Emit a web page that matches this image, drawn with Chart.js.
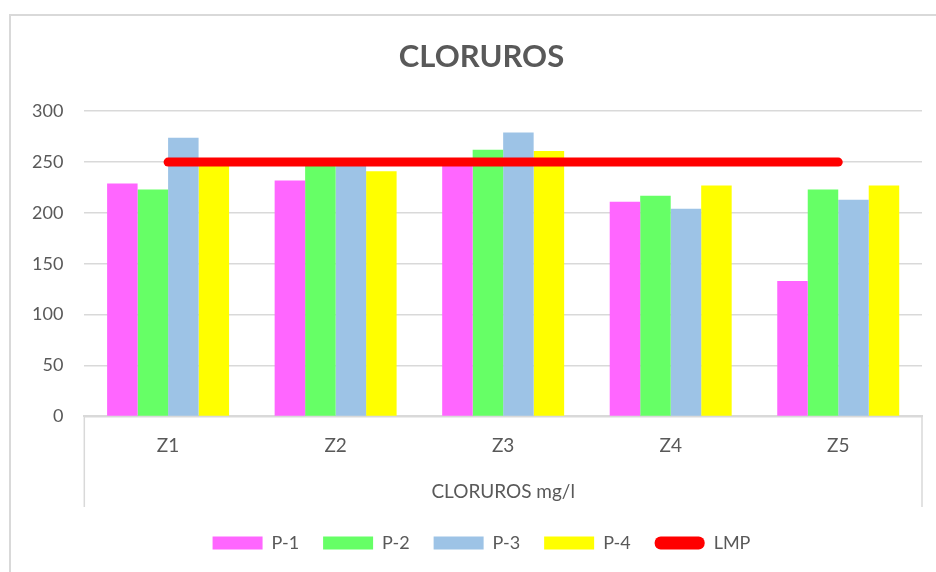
<!DOCTYPE html>
<html>
<head>
<meta charset="utf-8">
<script src="https://cdn.jsdelivr.net/npm/chart.js@4"></script>
<style>
  html, body { margin: 0; padding: 0; background: #fff; }
  #wrap { width: 936px; height: 572px; }
</style>
</head>
<body>
<div id="wrap"><canvas id="chart" width="936" height="572"></canvas></div>
<script>
// chart data
const categories = ["Z1", "Z2", "Z3", "Z4", "Z5"];
const seriesNames = ["P-1", "P-2", "P-3", "P-4"];
const p1 = [229, 232, 249, 211, 133];
const p2 = [223, 250, 262, 217, 223];
const p3 = [274, 250, 279, 204, 213];
const p4 = [250, 241, 261, 227, 227];
const lmp = [250, 250, 250, 250, 250];
const yTicks = { min: 0, max: 300, step: 50 };

const colors = ["#ff66ff", "#66ff66", "#9dc3e6", "#ffff00"];
const gray = "#595959";
const lineGray = "#d9d9d9";
const FONT = "Lato";
const BOX_GAP = 3;      // space kept below the category box
const CENTER_SHIFT = 15; // excel centres title/legend a bit right of ours

// outer chart frame + the box round the category labels
const framePlugin = {
  id: "frame",
  afterLayout(chart) {
    for (const box of [chart.titleBlock, chart.legend]) {
      if (!box) continue;
      box.left += CENTER_SHIFT;
      box.right += CENTER_SHIFT;
    }
  },
  beforeDraw(chart) {
    const ctx = chart.ctx;
    ctx.save();
    ctx.strokeStyle = lineGray;
    ctx.lineWidth = 2;
    ctx.strokeRect(10, 15, chart.width + 20, chart.height + 20);
    ctx.restore();
  },
  afterDraw(chart) {
    const ctx = chart.ctx;
    const area = chart.chartArea;
    const bottom = chart.scales.x.bottom - BOX_GAP;
    ctx.save();
    ctx.strokeStyle = lineGray;
    ctx.lineWidth = 1.5;
    ctx.beginPath();
    ctx.moveTo(area.left, area.bottom);
    ctx.lineTo(area.left, bottom);
    ctx.moveTo(area.right, area.bottom);
    ctx.lineTo(area.right, bottom);
    ctx.stroke();
    ctx.restore();
  }
};

const barData = [p1, p2, p3, p4];
const datasets = barData.map((vals, i) => ({
  type: "bar",
  label: seriesNames[i],
  data: vals,
  backgroundColor: colors[i],
  borderWidth: 0,
  barPercentage: 1,
  categoryPercentage: 0.728,
  order: 1
}));
datasets.push({
  type: "line",
  label: "LMP",
  data: lmp,
  borderColor: "#ff0000",
  backgroundColor: "#ff0000",
  borderWidth: 9,
  borderCapStyle: "round",
  pointRadius: 0,
  pointHoverRadius: 0,
  fill: false,
  order: 0
});

new Chart(document.getElementById("chart"), {
  data: { labels: categories, datasets: datasets },
  options: {
    responsive: false,
    animation: false,
    layout: { padding: { top: 14, left: 11, right: 14, bottom: 10 } },
    plugins: {
      title: {
        display: true,
        text: "CLORUROS",
        color: gray,
        font: { family: FONT, size: 31, weight: "bold" },
        padding: { top: 24, bottom: 36 }
      },
      legend: {
        position: "bottom",
        labels: {
          color: gray,
          font: { family: FONT, size: 18 },
          boxWidth: 50,
          boxHeight: 13,
          padding: 24,
          useBorderRadius: true,
          sort: (a, b) => a.datasetIndex - b.datasetIndex,
          generateLabels(chart) {
            return chart.data.datasets.map((ds, i) => ({
              text: ds.label,
              fillStyle: ds.backgroundColor,
              strokeStyle: ds.backgroundColor,
              lineWidth: 0,
              borderRadius: ds.type === "line" ? 6 : 0,
              fontColor: gray,
              datasetIndex: i,
              hidden: false
            }));
          }
        }
      },
      tooltip: { enabled: false }
    },
    scales: {
      x: {
        grid: { display: false, drawTicks: false },
        border: { display: true, color: lineGray, width: 2 },
        ticks: { color: gray, font: { family: FONT, size: 19 }, padding: 18 },
        title: {
          display: true,
          text: "CLORUROS mg/l",
          color: gray,
          font: { family: FONT, size: 19 },
          padding: { top: 5, bottom: 4 + BOX_GAP }
        }
      },
      y: {
        min: yTicks.min,
        max: yTicks.max,
        grid: { color: lineGray, lineWidth: 1.5, drawTicks: false },
        border: { display: false },
        ticks: {
          stepSize: yTicks.step,
          color: gray,
          font: { family: FONT, size: 18 },
          padding: 21
        }
      }
    }
  },
  plugins: [framePlugin]
});
</script>
</body>
</html>
